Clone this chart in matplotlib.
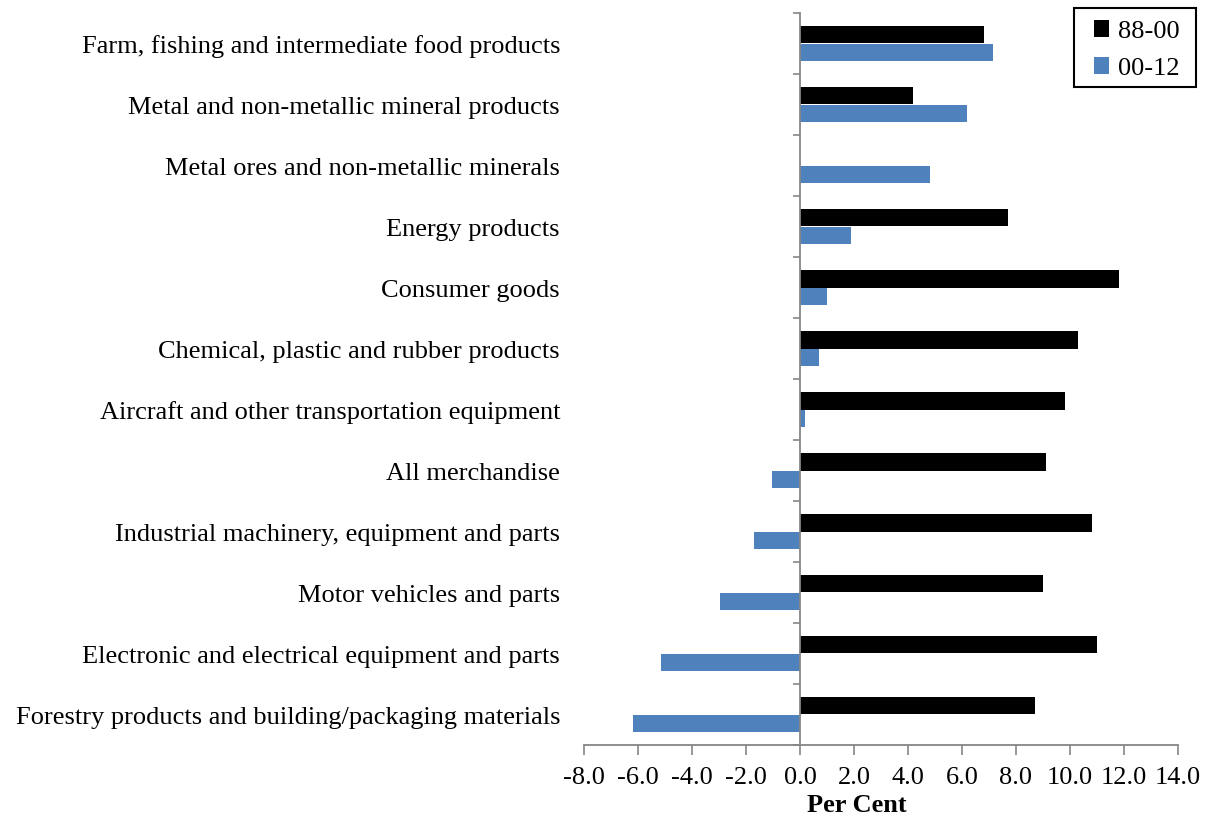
import matplotlib.pyplot as plt
import matplotlib.patches as mpatches
import numpy as np

plt.rcParams['font.family'] = ['Liberation Serif', 'DejaVu Serif']

categories = ['Farm, fishing and intermediate food products',
              'Metal and non-metallic mineral products',
              'Metal ores and non-metallic minerals',
              'Energy products',
              'Consumer goods',
              'Chemical, plastic and rubber products',
              'Aircraft and other transportation equipment',
              'All merchandise',
              'Industrial machinery, equipment and parts',
              'Motor vehicles and parts',
              'Electronic and electrical equipment and parts',
              'Forestry products and building/packaging materials']
growth_88_00 = [6.8, 4.2, 0.0, 7.7, 11.8, 10.3, 9.8, 9.1, 10.8, 9.0, 11.0, 8.7]
growth_00_12 = [7.15, 6.2, 4.8, 1.9, 1.0, 0.7, 0.2, -1.05, -1.7, -2.95, -5.15, -6.2]
xticks = np.arange(-8, 14.1, 2)

grey = '#868686'
blue = '#4F81BD'
fs = 19

fig = plt.figure(figsize=(12.09, 8.17), dpi=100)
ax = fig.add_axes([584 / 1209, 1 - 745 / 817, 594 / 1209, 732 / 817])

pos = np.arange(len(categories))
h = 0.28
ax.barh(pos - h / 2, growth_88_00, height=h, color='black', label='88-00')
ax.barh(pos + h / 2, growth_00_12, height=h, color=blue, label='00-12')

ax.set_xlim(-8, 14)
ax.set_ylim(len(categories) - 0.5, -0.5)
ax.set_xticks(xticks)
ax.set_xticklabels(['%.1f' % v for v in xticks], fontsize=fs)
ax.tick_params(axis='x', direction='out', length=7, width=1.2, color=grey, pad=9)

# y axis sits at zero, ticks on category boundaries
ax.spines['left'].set_position(('data', 0))
ax.spines['left'].set_color(grey)
ax.spines['left'].set_linewidth(1.3)
ax.spines['bottom'].set_color(grey)
ax.spines['bottom'].set_linewidth(1.3)
ax.spines['top'].set_visible(False)
ax.spines['right'].set_visible(False)
ax.set_yticks(np.arange(-0.5, len(categories), 1.0))
ax.set_yticklabels([])
ax.tick_params(axis='y', direction='out', length=5, width=1.2, color=grey)

trans = ax.get_yaxis_transform()
for i, name in enumerate(categories):
    ax.annotate(name, (-24 / 594, i), xycoords=trans, xytext=(0, -2.2),
                textcoords='offset points', ha='right', va='center', fontsize=fs)

fig.text(857 / 1209, 1 - 806 / 817, 'Per Cent', ha='center', va='center',
         fontsize=fs, fontweight='bold')

# legend box drawn separately so its size matches the original
box = mpatches.Rectangle((1074 / 1209, 1 - 87 / 817), 122 / 1209, 79 / 817,
                         transform=fig.transFigure, facecolor='white',
                         edgecolor='black', linewidth=1.5, zorder=4,
                         clip_on=False)
ax.add_patch(box)
leg = ax.legend(loc='center', bbox_to_anchor=(1137 / 1209, 1 - 50 / 817),
                bbox_transform=fig.transFigure, fontsize=fs, frameon=False,
                handlelength=0.58, handleheight=0.58, handletextpad=0.35,
                borderpad=0, labelspacing=0.55)
leg.set_zorder(6)

fig.savefig('out.png', dpi=100)
